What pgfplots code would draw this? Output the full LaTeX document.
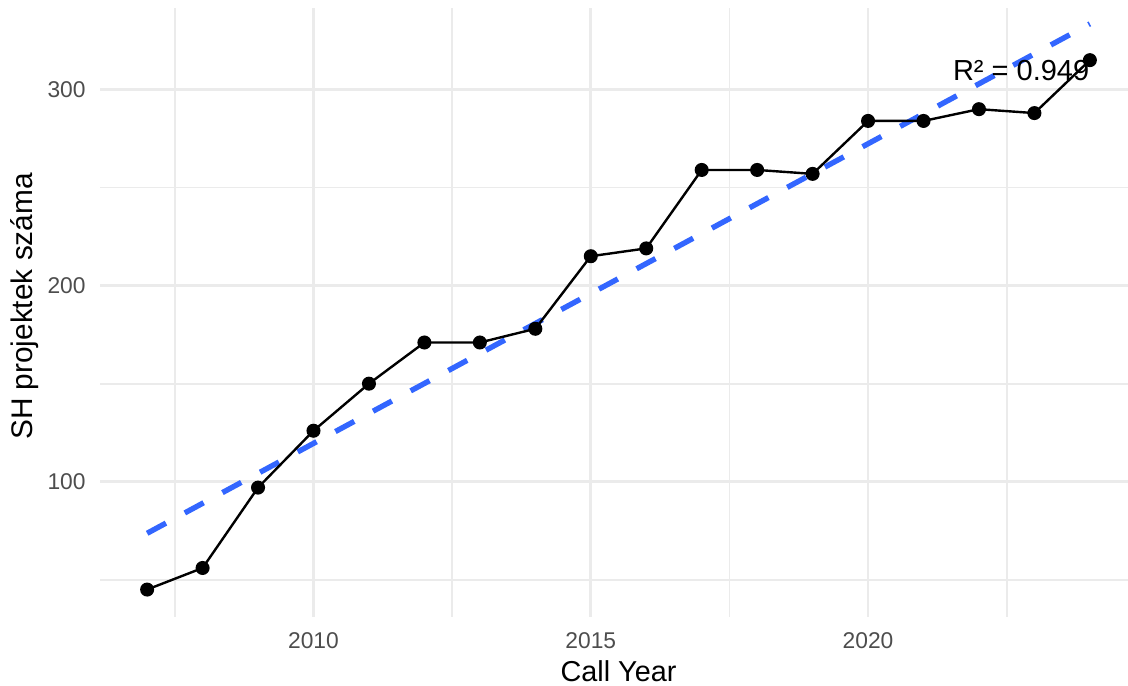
\documentclass[border=0pt]{standalone}
\usepackage{pgfplots}
\pgfplotsset{compat=1.18}
\usepackage{fontspec}
\setmainfont{Liberation Sans}
\definecolor{gridc}{HTML}{EBEBEB}
\definecolor{tickc}{HTML}{4D4D4D}
\definecolor{fitc}{HTML}{3366FF}

\begin{document}
\begin{tikzpicture}
\path[use as bounding box] (-50pt,-34pt) rectangle (514pt,308.5pt);
\begin{axis}[
    scale only axis,
    width=518.5pt, height=304.5pt,
    xmin=2006.15, xmax=2024.85,
    ymin=31, ymax=341.6,
    axis line style={draw=none},
    major tick length=0pt, minor tick length=0pt,
    xtick={2010,2015,2020},
    minor xtick={2007.5,2012.5,2017.5,2022.5},
    ytick={100,200,300},
    minor ytick={50,150,250},
    grid=both,
    major grid style={gridc, line width=1.4pt},
    minor grid style={gridc, line width=0.9pt},
    /pgf/number format/assume math mode=true,
    /pgf/number format/1000 sep={},
    tick label style={font=\fontsize{11.4}{13}\selectfont, text=tickc, inner sep=0pt},
    xticklabel style={anchor=base, yshift=-15.6pt},
    yticklabel style={anchor=east, xshift=-7pt},
    xlabel={Call Year},
    ylabel={SH projektek száma},
    xlabel style={font=\fontsize{14.4}{16}\selectfont, inner sep=0pt, at={(axis description cs:0.5,0)}, anchor=base, yshift=-32.3pt},
    ylabel style={font=\fontsize{14.9}{16}\selectfont, at={(axis description cs:0,0.5)}, anchor=center, yshift=37.5pt, xshift=3pt},
]
% linear fit
\addplot[fitc, line width=2.7pt, dash pattern=on 10.7pt off 10.7pt] coordinates {
    (2007,73.7) (2024,333.5)
};
% yearly counts
\addplot[black, line width=1.2pt, mark=*, mark size=2.9pt] coordinates {
    (2007,45) (2008,56) (2009,97) (2010,126) (2011,150) (2012,171)
    (2013,171) (2014,178) (2015,215) (2016,219) (2017,259) (2018,259)
    (2019,257) (2020,284) (2021,284) (2022,290) (2023,288) (2024,315)
};
\node[font=\fontsize{14.5}{16}\selectfont] at (axis cs:2022.76,309.7) {R² = 0.949};
\end{axis}
\end{tikzpicture}
\end{document}
